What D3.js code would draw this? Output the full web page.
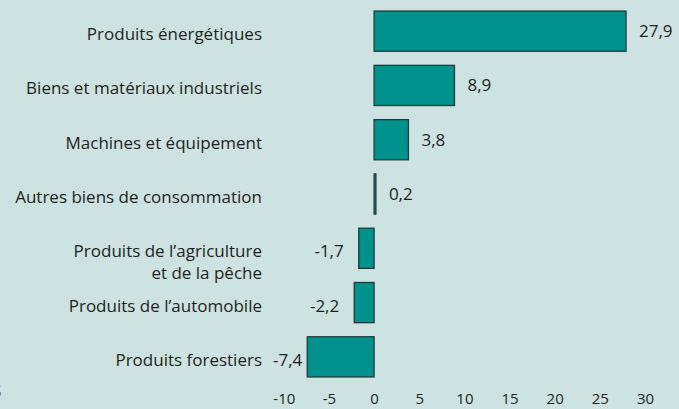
<!DOCTYPE html>
<html>
<head>
<meta charset="utf-8">
<script src="https://cdn.jsdelivr.net/npm/d3@7"></script>
<style>
  html, body { margin: 0; padding: 0; background: #cce3e1; }
  svg { display: block; font-family: "Open Sans", "Noto Sans", sans-serif; }
</style>
</head>
<body>
<div id="chart"></div>
<script>
const categories = [
  "Produits énergétiques",
  "Biens et matériaux industriels",
  "Machines et équipement",
  "Autres biens de consommation",
  "Produits de l’agriculture\net de la pêche",
  "Produits de l’automobile",
  "Produits forestiers"
];
const values = [27.9, 8.9, 3.8, 0.2, -1.7, -2.2, -7.4];
const ticks = [-10, -5, 0, 5, 10, 15, 20, 25, 30];

const W = 679, H = 409;
const fmt = v => d3.format(".1f")(v).replace("\u2212", "-").replace(".", ",");

const svg = d3.select("#chart").append("svg").attr("width", W).attr("height", H);

const x = d3.scaleLinear().domain([-10, 30]).range([283.8, 645]);
const y = d3.scaleBand().domain(categories).range([4, 384]).paddingInner(0.26).paddingOuter(0.13);

const data = categories.map((c, i) => ({ cat: c, value: values[i] }));

// bars
svg.selectAll(".bar").data(data).join("rect")
  .attr("class", "bar")
  .attr("x", d => x(Math.min(0, d.value)))
  .attr("y", d => y(d.cat))
  .attr("width", d => Math.abs(x(d.value) - x(0)))
  .attr("height", y.bandwidth())
  .attr("fill", "#00928d")
  .attr("stroke", "#1d3b39")
  .attr("stroke-width", 1.3);

// category labels
const labelX = 262;
data.forEach(d => {
  const lines = d.cat.split("\n");
  const cy = y(d.cat) + y.bandwidth() / 2 + 3;
  const t = svg.append("text")
    .attr("x", labelX)
    .attr("y", cy)
    .attr("text-anchor", "end")
    .style("font-size", "17px")
    .style("fill", "#231f20");
  lines.forEach((ln, i) => {
    t.append("tspan").attr("x", labelX).attr("dy", i === 0 ? "0.35em" : "1.3em").text(ln);
  });
});

// value labels
svg.selectAll(".val").data(data).join("text")
  .attr("class", "val")
  .attr("x", d => {
    if (d.value >= 0) return x(d.value) + 13;
    const lx = x(d.value) - 15;
    return lx - 30 < labelX + 8 ? x(d.value) - 5 : lx;
  })
  .attr("y", d => y(d.cat) + y.bandwidth() / 2 + (d.value < 0 ? 3 : 0))
  .attr("dy", "0.35em")
  .attr("text-anchor", d => d.value >= 0 ? "start" : "end")
  .style("font-size", "17px")
  .style("fill", "#231f20")
  .text(d => fmt(d.value));

// x axis
const axis = svg.append("g").attr("transform", "translate(0,391)")
  .call(d3.axisBottom(x).tickValues(ticks).tickSize(0).tickPadding(0).tickFormat(d => String(d)));
axis.select(".domain").remove();
axis.selectAll("text")
  .attr("dy", "0.85em")
  .style("font-family", "\"Open Sans\", sans-serif")
  .style("font-size", "15px")
  .style("fill", "#231f20");

// cut-off note at the left edge
svg.append("text").attr("x", -9).attr("y", 397)
  .style("font-size", "22px").style("fill", "#231f20").text("s");
</script>
</body>
</html>
